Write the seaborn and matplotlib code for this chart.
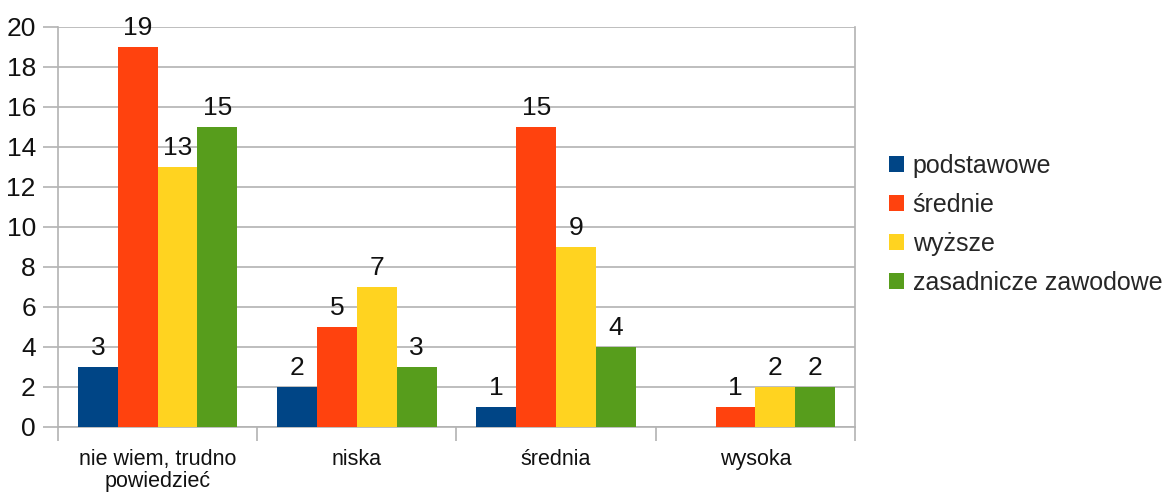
import pandas as pd
import numpy as np
import matplotlib
matplotlib.use('Agg')
import matplotlib.pyplot as plt
import seaborn as sns
from matplotlib.ticker import FixedLocator

categories = ['nie wiem, trudno\npowiedzieć', 'niska', 'średnia', 'wysoka']
series = ['podstawowe', 'średnie', 'wyższe', 'zasadnicze zawodowe']
podstawowe = [3, 2, 1, np.nan]
srednie = [19, 5, 15, 1]
wyzsze = [13, 7, 9, 2]
zasadnicze = [15, 3, 4, 2]
colors = ['#004586', '#ff420e', '#ffd320', '#579d1c']

rows = []
for name, vals in zip(series, [podstawowe, srednie, wyzsze, zasadnicze]):
    for cat, v in zip(categories, vals):
        rows.append({'kategoria': cat, 'seria': name, 'liczba': v})
df = pd.DataFrame(rows)

sns.set_style('white')
plt.rcParams['font.family'] = ['Liberation Sans', 'DejaVu Sans']

fig = plt.figure(figsize=(11.75, 4.92), dpi=100)
ax = fig.add_axes([58 / 1175, 1 - 427 / 492, (855 - 58) / 1175, (427 - 27) / 492])

sns.barplot(data=df, x='kategoria', y='liczba', hue='seria', order=categories,
            hue_order=series, palette=colors, width=0.8, gap=0, saturation=1,
            errorbar=None, ax=ax, zorder=3, linewidth=0)

for cont in ax.containers:
    ax.bar_label(cont, fmt='%g', padding=5, fontsize=19, color='#111111')

ax.set_xlim(-0.5, 3.5)
ax.set_ylim(0, 20)
ax.set_yticks(range(0, 21, 2))
ax.yaxis.grid(True, color='#b3b3b3', linewidth=1.2, zorder=0)
ax.set_xlabel('')
ax.set_ylabel('')

for side in ['left', 'right', 'bottom']:
    ax.spines[side].set_visible(True)
    ax.spines[side].set_color('#b3b3b3')
    ax.spines[side].set_linewidth(1.2)
ax.spines['top'].set_visible(False)

ax.tick_params(axis='y', length=11, width=1.2, color='#b3b3b3', pad=5,
               labelsize=19, labelcolor='#111111', left=True)
ax.tick_params(axis='x', which='major', length=0, pad=16, labelsize=15.5,
               labelcolor='#111111')
ax.xaxis.set_minor_locator(FixedLocator([-0.5, 0.5, 1.5, 2.5, 3.5]))
ax.tick_params(axis='x', which='minor', length=10, width=1.2, color='#b3b3b3',
               bottom=True)
for lbl in ax.get_xticklabels():
    lbl.set_linespacing(1.02)

handles, labels = ax.get_legend_handles_labels()
ax.legend(handles, labels, loc='center left', bbox_to_anchor=(889 / 1175, 1 - 224 / 492),
          bbox_transform=fig.transFigure, frameon=False, fontsize=18,
          handlelength=0.6, handleheight=0.6, handletextpad=0.35, labelspacing=0.6,
          borderaxespad=0, borderpad=0)

fig.savefig('out.png', dpi=100)
